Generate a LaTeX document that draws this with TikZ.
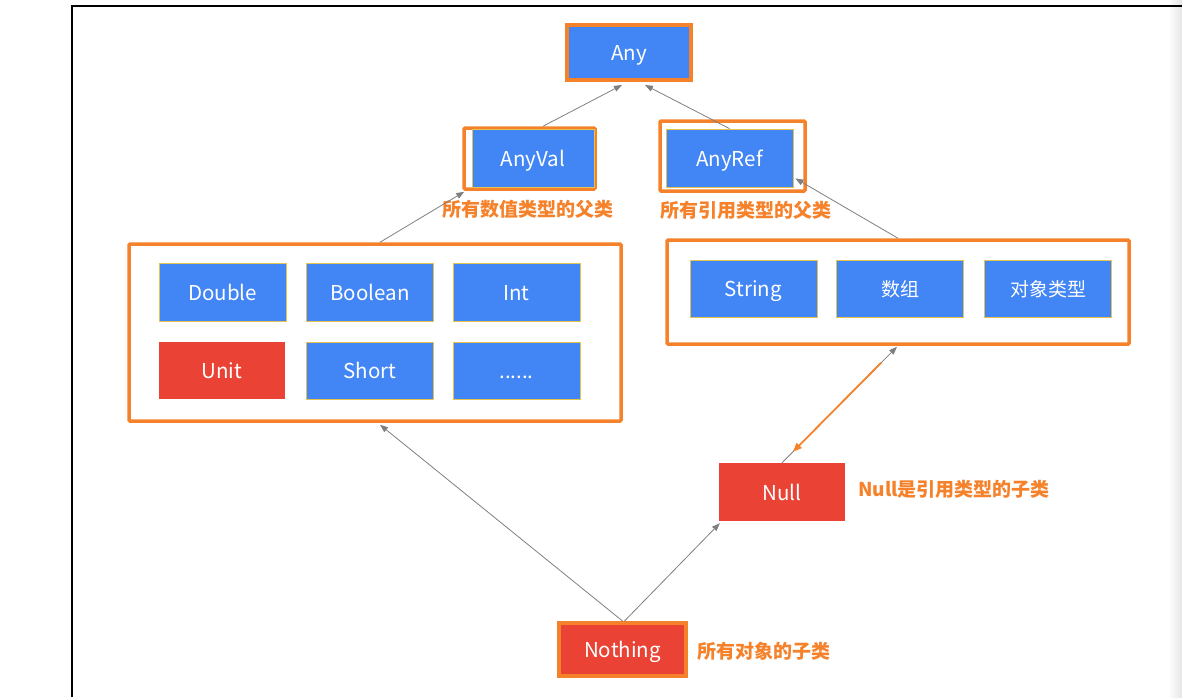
\documentclass[tikz,border=0pt]{standalone}
\usepackage{fontspec}
\setmainfont{Noto Sans CJK SC}
\usetikzlibrary{arrows.meta,calc}
\definecolor{gblue}{HTML}{4285F4}
\definecolor{gred}{HTML}{EA4335}
\definecolor{gorange}{HTML}{F5822A}
\definecolor{gyellow}{HTML}{E6C24F}
\definecolor{ggray}{HTML}{7F7F7F}
\begin{document}
\begin{tikzpicture}[x=1pt,y=-1pt,
  box/.style={inner sep=0pt, font=\fontsize{20.5}{24}\selectfont, text=white, text height=20pt, text depth=4pt},
  bluebox/.style={box, fill=gblue, draw=gyellow, line width=0.8pt},
  redbox/.style={box, fill=gred},
  frame/.style={draw=gorange, line width=3.5pt, rounded corners=1pt, inner sep=0pt},
  conn/.style={draw=ggray, line width=0.8pt, -{Triangle[length=8pt,width=6pt]}},
  oconn/.style={draw=gorange, line width=1.8pt, -{Triangle[length=9pt,width=7pt]}},
  note/.style={text=gorange, font=\fontsize{19}{23}\selectfont\bfseries, inner sep=0pt},
]
\useasboundingbox (0,0) rectangle (1182,697);
\shade[left color=white, right color=black!10] (1168,0) rectangle (1182,697);
\draw[line width=1.5pt] (72,697) -- (72,6) -- (1182,6);

% top
\node[box, fill=gblue, draw=gorange, line width=4pt, minimum width=124, minimum height=55] (any) at (629,52.5) {Any};

\node[frame, minimum width=131, minimum height=61] (anyvalframe) at (529.5,158.5) {};
\node[bluebox, minimum width=122, minimum height=58] (anyval) at (533,158) {AnyVal};
\node[frame, minimum width=145, minimum height=70] (anyrefframe) at (732.5,156) {};
\node[bluebox, minimum width=127, minimum height=58] (anyref) at (729.5,158) {AnyRef};

\node[note] (valnote) at (528,209) {所有数值类型的父类};
\node[note] (refnote) at (746,210) {所有引用类型的父类};

% left group
\node[frame, minimum width=492, minimum height=177] (leftgroup) at (375,332.5) {};
\node[bluebox, minimum width=127, minimum height=58] (double) at (222.5,292) {Double};
\node[bluebox, minimum width=127, minimum height=58] (boolean) at (370,292) {Boolean};
\node[bluebox, minimum width=127, minimum height=58] (int) at (516.5,292) {Int};
\node[redbox, minimum width=126, minimum height=57] (unit) at (222,370.5) {Unit};
\node[bluebox, minimum width=127, minimum height=57] (short) at (370,370.5) {Short};
\node[bluebox, minimum width=127, minimum height=57] (dots) at (516.5,370.5) {......};

% right group
\node[frame, minimum width=462, minimum height=104] (rightgroup) at (898,292) {};
\node[bluebox, minimum width=127, minimum height=57] (string) at (753.5,288.5) {String};
\node[bluebox, minimum width=127, minimum height=57, font=\fontsize{19}{23}\selectfont] (array) at (900,288.5) {数组};
\node[bluebox, minimum width=127, minimum height=57, font=\fontsize{19}{23}\selectfont] (object) at (1048,288.5) {对象类型};

% bottom
\node[redbox, minimum width=126, minimum height=58] (null) at (782,492) {Null};
\node[note, anchor=west] (nullnote) at (858,489) {Null是引用类型的子类};
\node[box, fill=gred, draw=gorange, line width=4pt, minimum width=127, minimum height=53] (nothing) at (622.5,649.5) {Nothing};
\node[note, anchor=west] (nothingnote) at (697,651) {所有对象的子类};

% connectors
\draw[conn] ($(anyvalframe.north west)!0.6!(anyvalframe.north east)$) -- ($(any.south west)!0.445!(any.south east)+(0,3)$);
\draw[conn] (anyref.north) -- ($(any.south west)!0.625!(any.south east)+(0,3)$);
\draw[conn] ($(leftgroup.north)+(5,0)$) -- ($(anyvalframe.south west)+(2,1)$);
\draw[conn] (rightgroup.north) -- ($(anyref.south east)+(2,-9)$);
\draw[conn] (nothing.north) -- ($(leftgroup.south)+(5,2)$);
\draw[conn] ($(nothing.north)+(2,0)$) -- ($(null.south west)+(1,2)$);
\draw[conn] (null.north) -- ($(rightgroup.south)+(-1,1)$);
\coordinate (ostart) at ($(null.north)!0.862!($(rightgroup.south)+(-1,1)$)$);
\coordinate (oend) at ($(null.north)!0.095!($(rightgroup.south)+(-1,1)$)$);
\draw[oconn] (ostart) -- (oend);
\end{tikzpicture}
\end{document}
